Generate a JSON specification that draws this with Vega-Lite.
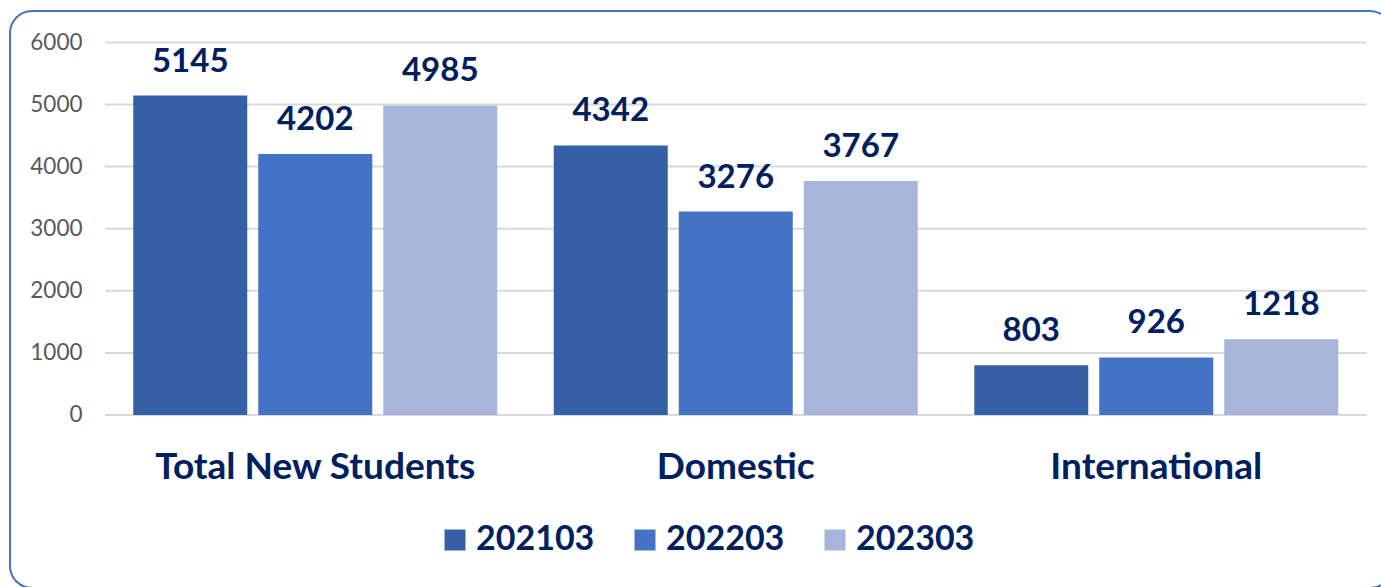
{
  "$schema": "https://vega.github.io/schema/vega-lite/v6.json",
  "width": 1382,
  "height": 577,
  "autosize": {"type": "none"},
  "padding": {"left": 10, "top": 11, "right": 0, "bottom": 0},
  "background": "white",
  "config": {
    "view": {"stroke": "#4472c4", "strokeWidth": 2, "cornerRadius": 22, "fill": "white"},
    "font": "Lato"
  },
  "datasets": {
    "bars": [
      {"category": "Total New Students", "year": "202103", "value": 5145},
      {"category": "Total New Students", "year": "202203", "value": 4202},
      {"category": "Total New Students", "year": "202303", "value": 4985},
      {"category": "Domestic", "year": "202103", "value": 4342},
      {"category": "Domestic", "year": "202203", "value": 3276},
      {"category": "Domestic", "year": "202303", "value": 3767},
      {"category": "International", "year": "202103", "value": 803},
      {"category": "International", "year": "202203", "value": 926},
      {"category": "International", "year": "202303", "value": 1218}
    ],
    "grid": [{"v": 0}, {"v": 1000}, {"v": 2000}, {"v": 3000}, {"v": 4000}, {"v": 5000}, {"v": 6000}]
  },
  "layer": [
    {
      "data": {"name": "grid"},
      "mark": {"type": "rule", "color": "#d9d9d9", "strokeWidth": 2},
      "encoding": {
        "y": {"field": "v", "type": "quantitative", "scale": {"domain": [-2786, 6506], "nice": false, "zero": false}},
        "x": {"datum": "Total New Students", "type": "nominal", "bandPosition": 0},
        "x2": {"datum": "International", "bandPosition": 1}
      }
    },
    {
      "data": {"name": "bars"},
      "mark": {"type": "bar"},
      "encoding": {
        "x": {
          "field": "category", "type": "nominal", "sort": null,
          "scale": {"domain": ["Total New Students", "Domestic", "International"], "paddingInner": 0, "paddingOuter": 0.14328, "align": 0.7884},
          "axis": {"title": null, "orient": "bottom", "bandPosition": 0.5, "domain": false, "ticks": false, "tickSize": 0, "grid": false, "labelAngle": 0, "labelAlign": "center", "labelPadding": -110, "labelBaseline": "alphabetic", "labelFont": "Lato", "labelFontSize": 37, "labelFontWeight": "bold", "labelColor": "#002060", "labelOverlap": false, "labelLimit": 0}
        },
        "xOffset": {"field": "year", "type": "nominal", "sort": null, "scale": {"paddingInner": 0.088, "paddingOuter": 0.226}},
        "y": {
          "field": "value", "type": "quantitative", "stack": null,
          "scale": {"domain": [-2786, 6506], "nice": false, "zero": false},
          "axis": {"title": null, "values": [0, 1000, 2000, 3000, 4000, 5000, 6000], "format": "d", "grid": false, "domain": false, "ticks": false, "tickSize": 0, "labelPadding": -72, "labelFont": "Lato", "labelFontSize": 22.5, "labelColor": "#595959", "labelAlign": "right", "labelBaseline": "middle"}
        },
        "y2": {"datum": 0},
        "color": {
          "field": "year", "type": "nominal",
          "scale": {"domain": ["202103", "202203", "202303"], "range": ["#3660a6", "#4472c4", "#a7b5da"]},
          "legend": {"title": null, "orient": "none", "legendX": 428, "legendY": 512, "direction": "horizontal", "symbolType": "square", "symbolSize": 441, "symbolStrokeWidth": 0, "labelFont": "Lato", "labelFontSize": 34, "labelFontWeight": "bold", "labelColor": "#002060", "labelOffset": 4, "columnPadding": 33}
        }
      }
    },
    {
      "data": {"name": "bars"},
      "mark": {"type": "text", "font": "Lato", "fontSize": 33, "fontWeight": "bold", "color": "#002060", "align": "center", "baseline": "alphabetic", "dy": -24},
      "encoding": {
        "x": {"field": "category", "type": "nominal", "sort": null},
        "xOffset": {"field": "year", "type": "nominal", "sort": null},
        "y": {"field": "value", "type": "quantitative"},
        "text": {"field": "value", "type": "quantitative"}
      }
    }
  ]
}
